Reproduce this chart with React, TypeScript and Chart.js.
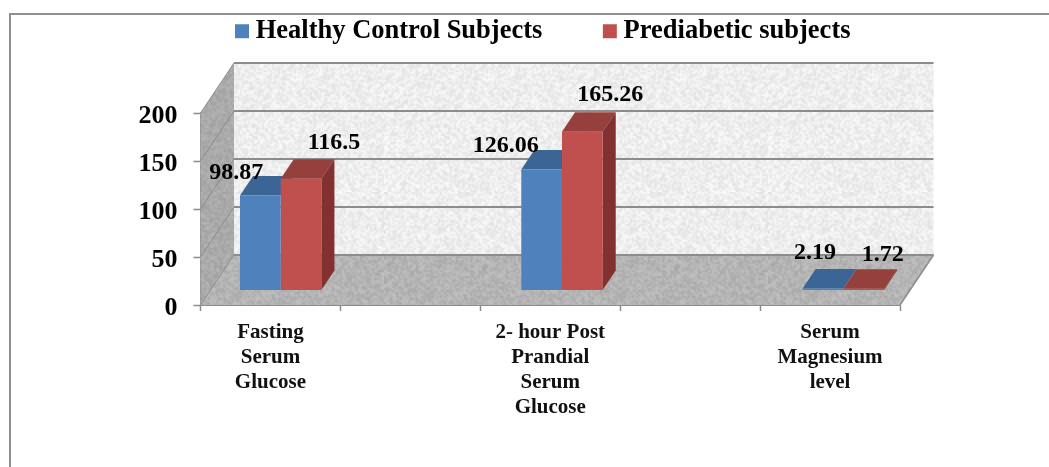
import React, { useEffect, useRef } from "react";
import { Chart, registerables } from "chart.js";

Chart.register(...registerables);

const categories = [
  ["Fasting", "Serum", "Glucose"],
  "",
  ["2- hour Post", "Prandial", "Serum", "Glucose"],
  "",
  ["Serum", "Magnesium", "level"],
];
const healthyLabel = "Healthy Control Subjects";
const prediabeticLabel = "Prediabetic subjects";
const healthyValues = [98.87, null, 126.06, null, 2.19];
const prediabeticValues = [116.5, null, 165.26, null, 1.72];
const yTicks = [0, 50, 100, 150, 200];

const FONT = '"Liberation Serif"';
const BLUE = "#4F81BD";
const RED = "#C0504D";
const BLUE_TOP = "#3B6595";
const RED_TOP = "#95403C";
const RED_SIDE = "#833130";
const LINE = "#8C8C8C";
const DEPTH_X = 33.5;
const DEPTH_Y = 50;
const BAR_SHIFT_X = 10;
const BAR_SHIFT_Y = 14.5;
const BAR_STRETCH = 1.0054;
const BAR_ORIGIN = 230;
const BAR_DEPTH_X = 13;
const BAR_DEPTH_Y = 19.5;
const LEGEND_SPACING = 67;
const LEGEND_TEXT_TOP = 18;

// label offsets from the bar's front-top centre: [dx, dy] per dataset, per category
const labelOffsets = [
  [[-24, -23], null, [-36, -24], null, [-8, -36]],
  [[33, -36], null, [28, -37], null, [19, -34]],
];

function speckle(base: number, spread: number, seed: number) {
  const n = 96;
  const small = document.createElement("canvas");
  small.width = n;
  small.height = n;
  const sg = small.getContext("2d")!;
  const img = sg.createImageData(n, n);
  let s = seed >>> 0;
  const next = () => {
    s = (s + 0x6d2b79f5) >>> 0;
    let t = s;
    t = Math.imul(t ^ (t >>> 15), t | 1);
    t ^= t + Math.imul(t ^ (t >>> 7), t | 61);
    return ((t ^ (t >>> 14)) >>> 0) / 4294967296;
  };
  for (let i = 0; i < n * n; i++) {
    const l = Math.round(base + (next() - 0.5) * spread);
    img.data[i * 4] = l;
    img.data[i * 4 + 1] = l;
    img.data[i * 4 + 2] = l;
    img.data[i * 4 + 3] = 255;
  }
  sg.putImageData(img, 0, 0);
  const c = document.createElement("canvas");
  c.width = n * 2;
  c.height = n * 2;
  const g = c.getContext("2d")!;
  g.imageSmoothingEnabled = true;
  g.imageSmoothingQuality = "high";
  g.drawImage(small, 0, 0, n * 2, n * 2);
  return c;
}

function poly(ctx: CanvasRenderingContext2D, pts: number[][], fill: any) {
  ctx.beginPath();
  pts.forEach((p, i) => (i ? ctx.lineTo(p[0], p[1]) : ctx.moveTo(p[0], p[1])));
  ctx.closePath();
  ctx.fillStyle = fill;
  ctx.fill();
}

// the bars stand on a plane part-way back in the 3D box
function toBarPlane(ctx: CanvasRenderingContext2D) {
  ctx.translate(BAR_SHIFT_X + BAR_ORIGIN * (1 - BAR_STRETCH), -BAR_SHIFT_Y);
  ctx.scale(BAR_STRETCH, 1);
}

const frame3d = {
  id: "frame3d",
  afterLayout(chart: any) {
    const lg = chart.legend;
    lg.top = LEGEND_TEXT_TOP - LEGEND_SPACING;
    lg.bottom = 60;
  },
  beforeDatasetsDraw(chart: any) {
    const { ctx, chartArea: a, scales } = chart;
    const { left: l, right: r, top: t, bottom: b } = a;
    ctx.save();
    // outer frame
    ctx.strokeStyle = "#8F8F8F";
    ctx.lineWidth = 2;
    ctx.beginPath();
    ctx.moveTo(10, 467);
    ctx.lineTo(10, 14);
    ctx.lineTo(1049, 14);
    ctx.stroke();
    // walls
    const wall = ctx.createPattern(speckle(238, 26, 7), "repeat");
    const side = ctx.createPattern(speckle(170, 22, 11), "repeat");
    const floor = ctx.createPattern(speckle(180, 26, 23), "repeat");
    poly(ctx, [[l + DEPTH_X, t - DEPTH_Y], [r + DEPTH_X, t - DEPTH_Y], [r + DEPTH_X, b - DEPTH_Y], [l + DEPTH_X, b - DEPTH_Y]], wall);
    poly(ctx, [[l, t], [l + DEPTH_X, t - DEPTH_Y], [l + DEPTH_X, b - DEPTH_Y], [l, b]], side);
    poly(ctx, [[l, b], [l + DEPTH_X, b - DEPTH_Y], [r + DEPTH_X, b - DEPTH_Y], [r, b]], floor);
    // gridlines
    ctx.strokeStyle = LINE;
    yTicks.forEach((v) => {
      const y = scales.y.getPixelForValue(v);
      ctx.lineWidth = 2;
      ctx.beginPath();
      ctx.moveTo(l + DEPTH_X, y - DEPTH_Y);
      ctx.lineTo(r + DEPTH_X, y - DEPTH_Y);
      ctx.stroke();
      ctx.lineWidth = 1;
      ctx.beginPath();
      ctx.moveTo(l, y);
      ctx.lineTo(l + DEPTH_X, y - DEPTH_Y);
      ctx.stroke();
    });
    ctx.lineWidth = 1.5;
    ctx.beginPath();
    ctx.moveTo(r, b);
    ctx.lineTo(r + DEPTH_X, b - DEPTH_Y);
    ctx.stroke();

    // bar tops and sides, in the bars' own shifted plane
    toBarPlane(ctx);
    [0, 1].forEach((di) => {
      const meta = chart.getDatasetMeta(di);
      meta.data.forEach((el: any, i: number) => {
        const v = chart.data.datasets[di].data[i];
        if (v == null) return;
        const x0 = el.x - el.width / 2;
        const x1 = el.x + el.width / 2;
        const y = el.y;
        const base = el.base;
        poly(ctx, [[x0, y], [x0 + BAR_DEPTH_X, y - BAR_DEPTH_Y], [x1 + BAR_DEPTH_X, y - BAR_DEPTH_Y], [x1, y]], di ? RED_TOP : BLUE_TOP);
        if (di === 1) {
          poly(ctx, [[x1, y], [x1 + BAR_DEPTH_X, y - BAR_DEPTH_Y], [x1 + BAR_DEPTH_X, base - BAR_DEPTH_Y], [x1, base]], RED_SIDE);
        }
      });
    });
    ctx.restore();
    // native bar fronts use the same plane
    ctx.save();
    toBarPlane(ctx);
  },
  afterDatasetsDraw(chart: any) {
    const { ctx } = chart;
    ctx.restore();
    ctx.save();
    ctx.font = `bold 24px ${FONT}`;
    ctx.fillStyle = "#000";
    ctx.textAlign = "center";
    ctx.textBaseline = "middle";
    [0, 1].forEach((di) => {
      chart.getDatasetMeta(di).data.forEach((el: any, i: number) => {
        const v = chart.data.datasets[di].data[i];
        const off = labelOffsets[di][i];
        if (v == null || !off) return;
        const px = BAR_ORIGIN + BAR_SHIFT_X + (el.x - BAR_ORIGIN) * BAR_STRETCH;
        ctx.fillText(String(v), px + off[0], el.y - BAR_SHIFT_Y + off[1]);
      });
    });
    ctx.restore();
  },
};

export default function App() {
  const ref = useRef<HTMLCanvasElement>(null);
  useEffect(() => {
    const chart = new Chart(ref.current!, {
      type: "bar",
      data: {
        labels: categories as any,
        datasets: [
          { label: healthyLabel, data: healthyValues, backgroundColor: BLUE },
          { label: prediabeticLabel, data: prediabeticValues, backgroundColor: RED },
        ],
      },
      plugins: [frame3d],
      options: {
        responsive: false,
        animation: false,
        layout: { padding: { left: 130, right: 87, top: 9.5, bottom: 0 } },
        datasets: { bar: { barPercentage: 1, categoryPercentage: 0.5786 } },
        plugins: {
          tooltip: { enabled: false },
          legend: {
            position: "top",
            labels: {
              color: "#000",
              boxWidth: 1,
              boxHeight: 1,
              padding: LEGEND_SPACING,
              font: { family: FONT, size: 26.5, weight: "bold" },
              generateLabels: (c: any) =>
                c.data.datasets.map((d: any, i: number) => ({
                  text: d.label,
                  fillStyle: d.backgroundColor,
                  strokeStyle: d.backgroundColor,
                  lineWidth: 13,
                  datasetIndex: i,
                })),
            },
          },
        },
        scales: {
          x: {
            type: "category",
            grid: { drawOnChartArea: false, offset: true, tickLength: 6, color: LINE, tickWidth: 1.5 },
            border: { color: LINE, width: 2 },
            afterFit: (s: any) => { s.height = 162; },
            ticks: {
              autoSkip: false,
              maxRotation: 0,
              minRotation: 0,
              padding: 9,
              color: "#111",
              font: { family: FONT, size: 21, weight: "bold", lineHeight: 1.19 },
            },
          },
          y: {
            type: "linear",
            min: 0,
            max: 200,
            grid: { drawOnChartArea: false, tickLength: 7, color: LINE, tickWidth: 1.5 },
            border: { color: LINE, width: 2 },
            afterFit: (s: any) => { s.width = 70.5; },
            ticks: {
              stepSize: 50,
              padding: 16,
              color: "#000",
              font: { family: FONT, size: 26, weight: "bold", lineHeight: "6px" },
              // an empty first line drops the number a little below its tick, as in the reference
              callback: (v: any) => ["", String(v)],
            },
          },
          spacer: {
            type: "linear",
            position: "right",
            grid: { display: false },
            border: { display: false },
            ticks: { display: false },
            afterFit: (s: any) => { s.width = 62; },
          },
        },
      } as any,
    });
    return () => chart.destroy();
  }, []);
  return (
    <div style={{ position: "fixed", left: 0, top: 0 }}>
      <canvas ref={ref} width={1049} height={467} style={{ display: "block" }} />
    </div>
  );
}
